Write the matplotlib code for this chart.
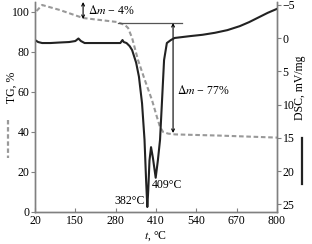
import matplotlib
matplotlib.use('Agg')
import matplotlib.pyplot as plt
from matplotlib.lines import Line2D

plt.rcParams['font.family'] = ['Liberation Serif', 'DejaVu Serif']
plt.rcParams['mathtext.fontset'] = 'stix'
plt.rcParams['font.size'] = 8.5

# TG curve (dashed, left axis, %)
tg_t = [25, 43, 100, 175, 230, 284, 310, 320, 333, 352, 374, 397, 413, 423, 433, 449, 471, 616, 800]
tg_v = [100.5, 103.5, 101, 97, 96, 95, 93.5, 92, 87, 76, 66, 56, 47.5, 42.5, 40, 39.2, 38.8, 38.2, 37.2]

# DSC curve (solid, right axis, mV/mg, inverted)
dsc_t = [20, 30, 43, 70, 100, 130, 150, 160, 168, 180, 220, 260, 295, 302, 306, 315, 325,
         333, 346, 355, 365, 373, 378, 382, 385, 389, 394, 400, 409, 416, 423, 429, 436,
         445, 458, 470, 520, 560, 600, 640, 680, 710, 740, 770, 800]
dsc_v = [0.29, 0.59, 0.74, 0.74, 0.66, 0.59, 0.44, 0.06, 0.44, 0.74, 0.74, 0.74, 0.74, 0.29, 0.59, 0.74, 1.2,
         1.8, 3.7, 5.8, 9.8, 15.3, 21.3, 25.4, 22.9, 18.4, 16.4, 18.0, 21.0, 18.4, 15.3, 9.8, 3.3,
         0.74, 0.29, -0.02, -0.3, -0.5, -0.8, -1.2, -1.8, -2.4, -3.1, -3.8, -4.4]

xticks = [20, 150, 280, 410, 540, 670, 800]
tg_ticks = [0, 20, 40, 60, 80, 100]
dsc_ticks = [-5, 0, 5, 10, 15, 20, 25]

spine_c = '#808080'

fig = plt.figure(figsize=(3.12, 2.44), dpi=100)
ax = fig.add_axes([35/312, 1 - 212/244, 242/312, 210/244])
ax2 = ax.twinx()

ax.plot(tg_t, tg_v, color='#999999', lw=1.5, ls=(0, (2.2, 1.3)))
ax2.plot(dsc_t, dsc_v, color='#222222', lw=1.5)

ax.set_xlim(20, 800)
ax.set_ylim(0, 105)
ax2.set_ylim(26.15, -5.43)
ax.set_xticks(xticks)
ax.set_yticks(tg_ticks)
ax2.set_yticks(dsc_ticks)

for a in (ax, ax2):
    a.spines['top'].set_visible(False)
    for s in ('left', 'right', 'bottom'):
        a.spines[s].set_color(spine_c)
        a.spines[s].set_linewidth(1.0)
ax.tick_params(axis='x', direction='in', length=3, color=spine_c, pad=2)
ax.tick_params(axis='y', direction='out', length=3, color=spine_c, pad=1)
ax2.tick_params(axis='y', direction='out', length=3, color=spine_c, pad=1)

# annotations
ax.annotate('', xy=(175, 96.5), xytext=(175, 105), arrowprops=dict(arrowstyle='<->', lw=0.8, color='k',
            mutation_scale=5, shrinkA=0, shrinkB=0), annotation_clip=False)
ax.text(191, 101, r'$\Delta m$ − 4%', ha='left', va='center')
ax.plot([287, 494], [94.5, 94.5], color='#555555', lw=0.9)
ax.annotate('', xy=(465, 39.5), xytext=(465, 94.5), arrowprops=dict(arrowstyle='<->', lw=0.8, color='k',
            mutation_scale=5, shrinkA=0, shrinkB=0))
ax.text(478, 61, r'$\Delta m$ − 77%', ha='left', va='center')
ax.text(374, 5.5, '382°C', ha='right', va='center')
ax.text(397, 13.5, '409°C', ha='left', va='center')

# axis labels
fig.text(156/312, 1 - 236/244, r'$t$, °C', ha='center', va='center')
fig.text(12/312, 1 - 87/244, 'TG, %', rotation=90, ha='center', va='center')
fig.text(300/312, 1 - 88/244, 'DSC, mV/mg', rotation=90, ha='center', va='center')
fig.add_artist(Line2D([8/312, 8/312], [1 - 120/244, 1 - 158/244], color='#999999', lw=1.6,
                      ls=(0, (2, 1.2))))
fig.add_artist(Line2D([302/312, 302/312], [1 - 138/244, 1 - 184/244], color='#222222', lw=1.6))

fig.savefig('out.png', dpi=100)
